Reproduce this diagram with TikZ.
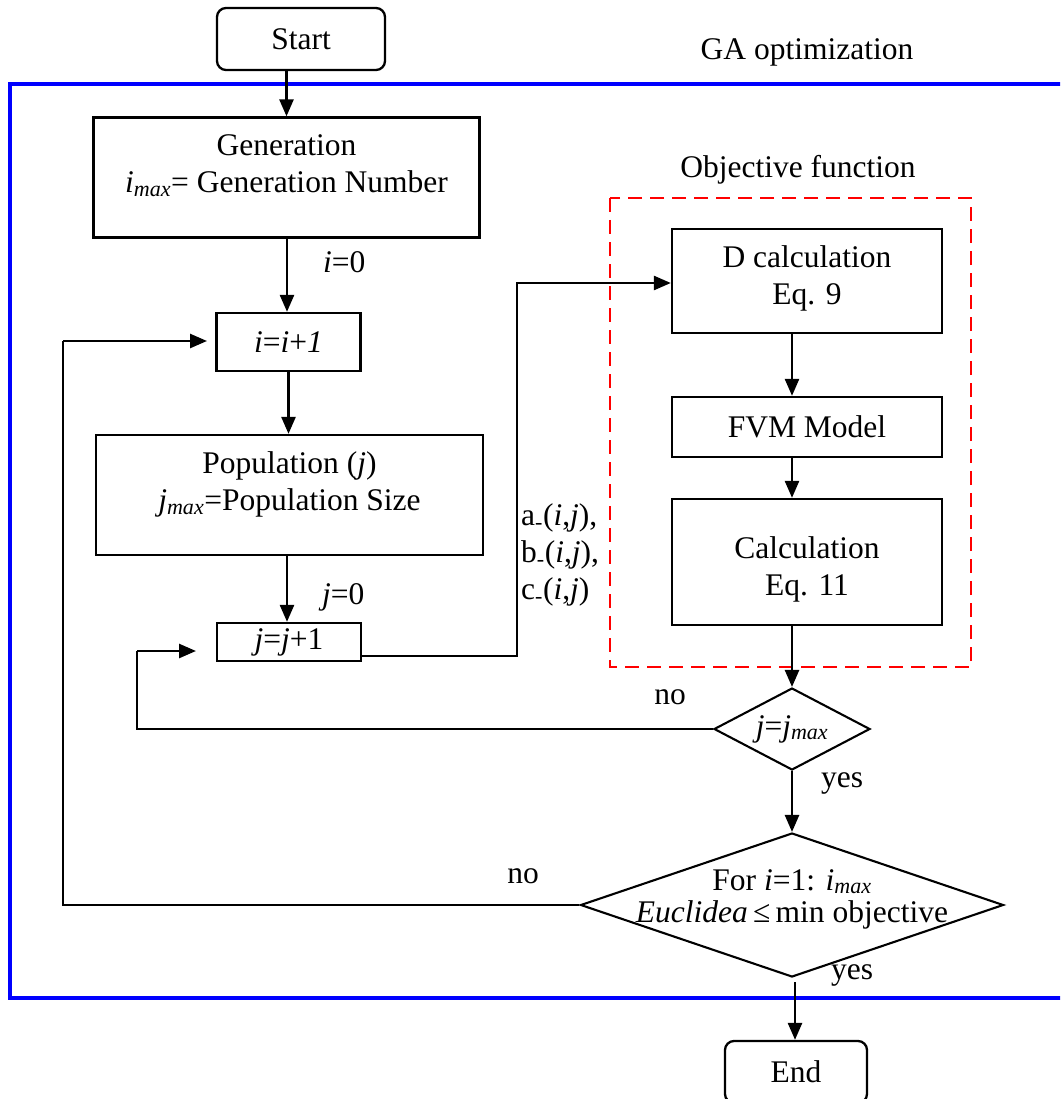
\documentclass[tikz,border=0pt]{standalone}
\usepackage{fontspec}
\setmainfont{Liberation Serif}
\usetikzlibrary{arrows.meta,shapes.geometric,calc}
\newcommand\mxs{\textsubscript{\itshape max}}
\begin{document}
\begin{tikzpicture}[x=1pt,y=1pt,
  every node/.style={font=\fontsize{31.5}{37}\selectfont},
  box/.style={draw, line width=2.3pt, rectangle, inner sep=0pt},
  rbox/.style={draw, line width=2.3pt, rectangle, rounded corners=9pt, inner sep=0pt},
  dia/.style={draw, line width=2.1pt, diamond, inner sep=0pt},
  txt/.style={inner sep=0pt, align=center},
  arr/.style={line width=2.6pt, -{Triangle[length=17pt,width=14pt]}},
  ln/.style={line width=2.3pt}]
\useasboundingbox (0,0) rectangle (1060,-1099);
\clip (0,0) rectangle (1060,-1099);

% frames
\draw[blue, line width=4.5pt] (10,-84) rectangle (1080,-998);
\draw[red, line width=2.8pt, dash pattern=on 14pt off 8pt] (610,-198) rectangle (971,-667);
\node[txt] (gatitle) at (807,-52) {GA optimization};
\node[txt] (objtitle) at (798,-170) {Objective function};

% nodes
\node[rbox, minimum width=168pt, minimum height=62pt] (start) at (301,-39) {Start};
\node[box, minimum width=386pt, minimum height=120pt] (gen) at (286.5,-177.5) {};
\node[txt] (gentxt) at (286.5,-166) {Generation\\\textit{i}\mxs= Generation Number};
\node[box, minimum width=144pt, minimum height=58pt] (ibox) at (288.5,-342) {\textit{i}=\textit{i}+\textit{1}};
\node[box, minimum width=387pt, minimum height=120pt] (pop) at (289.5,-495) {};
\node[txt] (poptxt) at (289.5,-484.5) {Population (\textit{j})\\\textit{j}\mxs=Population Size};
\node[box, minimum width=144pt, minimum height=38pt] (jbox) at (289,-642) {\textit{j}=\textit{j}+1};

\node[box, minimum width=270pt, minimum height=104pt] (dcalc) at (807,-281) {};
\node[txt] (dtxt) at (807,-278.5) {D calculation\\Eq. 9};
\node[box, minimum width=270pt, minimum height=60pt] (fvm) at (807,-427) {FVM Model};
\node[box, minimum width=270pt, minimum height=126pt] (calc) at (807,-562) {};
\node[txt] (ctxt) at (807,-569.5) {Calculation\\Eq. 11};

\node[dia, minimum width=156pt, minimum height=82pt] (jd) at (792,-729) {};
\node[txt] (jdtxt) at (792,-729) {\textit{j}=\textit{j}\mxs};
\node[dia, minimum width=423pt, minimum height=144pt] (bd) at (792,-905) {};
\node[txt, font=\fontsize{31.5}{32}\selectfont] (bdtxt) at (792,-899) {For \textit{i}=1: \textit{i}\mxs\\\textit{Euclidea}\,≤\,min objective};

\node[rbox, minimum width=142pt, minimum height=62pt] (fin) at (796,-1072) {End};

% labels
\node[txt, anchor=west] (i0) at (323,-262) {\textit{i}=0};
\node[txt, anchor=west] (j0) at (322,-597) {\textit{j}=0};
\node[txt, anchor=west, align=left] (abc) at (521,-555) {a\textsubscript{-}(\textit{i},\textit{j}),\\b\textsubscript{-}(\textit{i},\textit{j}),\\c\textsubscript{-}(\textit{i},\textit{j})};
\node[txt] (no1) at (670,-697) {no};
\node[txt] (yes1) at (842,-783) {yes};
\node[txt] (no2) at (523,-876) {no};
\node[txt] (yes2) at (852,-975) {yes};

% coordinates
\coordinate (acorner) at (517,-283);
\coordinate (jcorner) at (137,-651);
\coordinate (jin) at (196,-651);
\coordinate (icorner) at (63,-341);
\coordinate (iin) at (207,-341);
\coordinate (bdout) at (795,-982);

% connectors
\draw[arr] (gen.north |- start.south) -- (gen.north);
\draw[arr] (gen.south -| 287,0) -- (ibox.north -| 287,0);
\draw[arr] (ibox.south) -- (pop.north -| ibox.south);
\draw[arr] (pop.south -| 287,0) -- (jbox.north -| 287,0);
\draw[arr] ($(jbox.east)+(0,-14)$) -| (acorner) -- (dcalc.west |- acorner);
\draw[arr] (dcalc.south -| jd.north) -- (fvm.north -| jd.north);
\draw[arr] (fvm.south -| jd.north) -- (calc.north -| jd.north);
\draw[arr] (calc.south -| jd.north) -- (jd.north);
\draw[ln] (jd.west) -| (jcorner);
\draw[arr] (jcorner) -- (jin);
\draw[arr] (jd.south) -- (bd.north -| jd.south);
\draw[ln] (bd.west) -| (icorner);
\draw[arr] (icorner) -- (iin);
\draw[arr] (bdout) -- (fin.north -| bdout);
\end{tikzpicture}
\end{document}
